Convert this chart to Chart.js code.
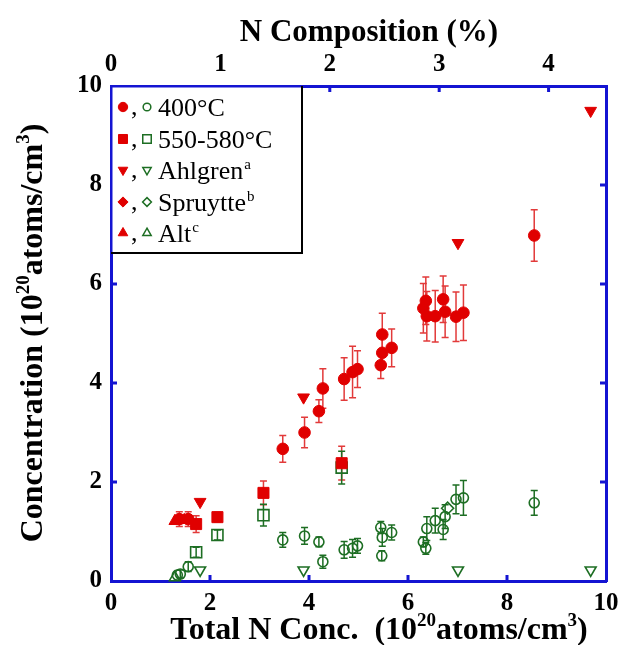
<!DOCTYPE html>
<html>
<head>
<meta charset="utf-8">
<script src="https://cdn.jsdelivr.net/npm/chart.js@4.4.0/dist/chart.umd.min.js"></script>
<style>
  html, body { margin: 0; padding: 0; background: #fff; }
  #wrap { width: 619px; height: 645px; }
</style>
</head>
<body>
<div id="wrap"><canvas id="chart" width="619" height="645"></canvas></div>
<script>
// 400°C (filled = red, open = green), x = total N conc, y = concentration
const t400RedX = [1.38, 1.56, 3.47, 3.91, 4.20, 4.28, 4.71, 4.88, 4.98, 5.45, 5.48, 5.48, 5.67, 6.31, 6.36, 6.38, 6.55, 6.71, 6.75, 6.97, 7.12, 8.55];
const t400RedY = [1.25, 1.25, 2.67, 3.00, 3.43, 3.89, 4.08, 4.22, 4.28, 4.36, 4.61, 4.98, 4.71, 5.51, 5.66, 5.35, 5.35, 5.69, 5.44, 5.34, 5.42, 6.98];
const t400RedErr = [0.15, 0.15, 0.27, 0.31, 0.23, 0.40, 0.43, 0.52, 0.37, 0.27, 0.30, 0.43, 0.38, 0.50, 0.48, 0.50, 0.52, 0.47, 0.52, 0.50, 0.56, 0.52];

const t400GreenX = [1.34, 1.40, 1.56, 3.47, 3.91, 4.20, 4.28, 4.71, 4.88, 4.98, 5.45, 5.48, 5.47, 5.67, 6.31, 6.36, 6.38, 6.55, 6.71, 6.75, 6.97, 7.12, 8.55];
const t400GreenY = [0.12, 0.14, 0.29, 0.83, 0.91, 0.79, 0.39, 0.63, 0.66, 0.71, 1.08, 0.88, 0.51, 0.98, 0.79, 0.66, 1.06, 1.22, 1.04, 1.30, 1.65, 1.68, 1.58];
const t400GreenErr = [0, 0.08, 0.10, 0.15, 0.17, 0.10, 0.13, 0.17, 0.18, 0.15, 0.12, 0.18, 0.10, 0.15, 0.10, 0.12, 0.24, 0.25, 0.20, 0.24, 0.29, 0.35, 0.25];

// 550-580°C
const t550X = [1.72, 2.15, 3.08, 4.66];
const t550RedY = [1.15, 1.29, 1.78, 2.38];
const t550RedErr = [0.17, 0.10, 0.24, 0.34];
const t550GreenY = [0.58, 0.93, 1.33, 2.29];
const t550GreenErr = [0.10, 0.10, 0.22, 0.33];

// Ahlgren
const ahlX = [1.80, 3.89, 7.01, 9.69];
const ahlRedY = [1.60, 3.71, 6.83, 9.50];
const ahlGreenY = [0.22, 0.22, 0.22, 0.22];

// Spruytte
const spruRedX = [];
const spruRedY = [];
const spruGreenX = [6.80];
const spruGreenY = [1.47];

// Alt
const altRedX = [1.29, 1.48];
const altRedY = [1.21, 1.23];
const altGreenX = [1.29];
const altGreenY = [0.07];

const xTicks = [0, 2, 4, 6, 8, 10];
const yTicks = [0, 2, 4, 6, 8, 10];
const topTicks = [0, 1, 2, 3, 4];
const nPerPercent = 2.21; // 1% N = 2.21e20 atoms/cm3

const red = '#e00000';
const redBar = '#e23a3a';
const green = '#1d6e23';
const blue = '#1414d2';
const serif = '"Liberation Serif", "Times New Roman", serif';

function pts(xs, ys) {
    return xs.map((x, i) => ({ x: x, y: ys[i] }));
}

function redSet(label, xs, ys, style, radius, rotation, errs) {
    return {
        label: label, data: pts(xs, ys), errors: errs, barColor: redBar,
        pointStyle: style, pointRadius: radius, pointRotation: rotation || 0,
        backgroundColor: red, borderColor: red, borderWidth: 1, clip: false
    };
}

function greenSet(label, xs, ys, style, radius, rotation, errs) {
    return {
        label: label, data: pts(xs, ys), errors: errs, barColor: green,
        pointStyle: style, pointRadius: radius, pointRotation: rotation || 0,
        backgroundColor: 'rgba(0,0,0,0)', borderColor: green, borderWidth: 1.6, clip: false
    };
}

const datasets = [
    redSet('400°C', t400RedX, t400RedY, 'circle', 5.8, 0, t400RedErr),
    redSet('550-580°C', t550X, t550RedY, 'rect', 7.8, 0, t550RedErr),
    redSet('Ahlgren', ahlX, ahlRedY, 'triangle', 6.8, 180),
    redSet('Spruytte', spruRedX, spruRedY, 'rectRot', 5.5),
    redSet('Alt', altRedX, altRedY, 'triangle', 6.8),
    greenSet('400°C', t400GreenX, t400GreenY, 'circle', 5, 0, t400GreenErr),
    greenSet('550-580°C', t550X, t550GreenY, 'rect', 7.8, 0, t550GreenErr),
    greenSet('Ahlgren', ahlX, ahlGreenY, 'triangle', 6.3, 180),
    greenSet('Spruytte', spruGreenX, spruGreenY, 'rectRot', 6),
    greenSet('Alt', altGreenX, altGreenY, 'triangle', 6.3)
];

const legendRows = [
    { style: 'circle', rot: 0, rr: 5.5, gr: 4.8, text: '400°C', sup: '' },
    { style: 'rect', rot: 0, rr: 7.5, gr: 7.5, text: '550-580°C', sup: '' },
    { style: 'triangle', rot: 180, rr: 6.5, gr: 6, text: 'Ahlgren', sup: 'a' },
    { style: 'rectRot', rot: 0, rr: 6, gr: 5.5, text: 'Spruytte', sup: 'b' },
    { style: 'triangle', rot: 0, rr: 6.5, gr: 6, text: 'Alt', sup: 'c' }
];

function drawRich(ctx, parts, x, y, size) {
    const big = 'bold ' + size + 'px ' + serif;
    const small = 'bold ' + Math.round(size * 0.6) + 'px ' + serif;
    let w = 0;
    parts.forEach(p => { ctx.font = p[1] ? small : big; w += ctx.measureText(p[0]).width; });
    let cx = x - w / 2;
    ctx.textAlign = 'left';
    ctx.textBaseline = 'alphabetic';
    parts.forEach(p => {
        ctx.font = p[1] ? small : big;
        ctx.fillText(p[0], cx, p[1] ? y - size * 0.4 : y);
        cx += ctx.measureText(p[0]).width;
    });
}

const decorations = {
    id: 'decorations',
    beforeDatasetsDraw(chart) {
        const ctx = chart.ctx;
        const ys = chart.scales.y;
        ctx.save();
        chart.data.datasets.forEach((ds, i) => {
            if (!ds.errors) return;
            const meta = chart.getDatasetMeta(i);
            ctx.strokeStyle = ds.barColor;
            ctx.lineWidth = 1.5;
            meta.data.forEach((pt, j) => {
                const e = ds.errors[j];
                if (!e) return;
                const top = ys.getPixelForValue(ds.data[j].y + e);
                const bot = ys.getPixelForValue(ds.data[j].y - e);
                ctx.beginPath();
                ctx.moveTo(pt.x, top); ctx.lineTo(pt.x, bot);
                ctx.moveTo(pt.x - 3.5, top); ctx.lineTo(pt.x + 3.5, top);
                ctx.moveTo(pt.x - 3.5, bot); ctx.lineTo(pt.x + 3.5, bot);
                ctx.stroke();
            });
        });
        ctx.restore();
    },
    afterDraw(chart) {
        const ctx = chart.ctx;
        const a = chart.chartArea;
        const sx = chart.scales.x, sy = chart.scales.y, st = chart.scales.x2;
        ctx.save();

        // inward tick marks
        ctx.strokeStyle = blue;
        ctx.lineWidth = 3;
        ctx.beginPath();
        xTicks.slice(1, -1).forEach(v => {
            const px = sx.getPixelForValue(v);
            ctx.moveTo(px, a.bottom); ctx.lineTo(px, a.bottom - 6);
        });
        yTicks.slice(1, -1).forEach(v => {
            const py = sy.getPixelForValue(v);
            ctx.moveTo(a.left, py); ctx.lineTo(a.left + 6, py);
            ctx.moveTo(a.right, py); ctx.lineTo(a.right - 6, py);
        });
        topTicks.slice(1).forEach(v => {
            const px = st.getPixelForValue(v);
            ctx.moveTo(px, a.top); ctx.lineTo(px, a.top + 6);
        });
        ctx.stroke();

        // axis titles
        ctx.fillStyle = '#000';
        drawRich(ctx, [['N Composition (%)', false]], 369, 41, 31);
        drawRich(ctx, [['Total N Conc.  (10', false], ['20', true], ['atoms/cm', false], ['3', true], [')', false]], 379, 639, 32);
        ctx.save();
        ctx.translate(42, 333);
        ctx.rotate(-Math.PI / 2);
        drawRich(ctx, [['Concentration (10', false], ['20', true], ['atoms/cm', false], ['3', true], [')', false]], 0, 0, 32);
        ctx.restore();

        // legend box
        const lx = a.left + 1.5, ly = a.top + 1.5, rx = 302, by = 253;
        ctx.fillStyle = '#fff';
        ctx.fillRect(lx, ly, rx - lx, by - ly);
        ctx.strokeStyle = '#000';
        ctx.lineWidth = 2;
        ctx.beginPath();
        ctx.moveTo(rx, a.top); ctx.lineTo(rx, by); ctx.lineTo(a.left, by);
        ctx.stroke();

        const rowY = [107, 139, 170, 202, 233];
        legendRows.forEach((r, i) => {
            const y = rowY[i];
            ctx.fillStyle = red; ctx.strokeStyle = red; ctx.lineWidth = 1;
            Chart.helpers.drawPoint(ctx, { pointStyle: r.style, radius: r.rr * 0.85, rotation: r.rot, borderWidth: 1 }, 123, y);
            ctx.fillStyle = 'rgba(0,0,0,0)'; ctx.strokeStyle = green; ctx.lineWidth = 1.5;
            Chart.helpers.drawPoint(ctx, { pointStyle: r.style, radius: r.gr * 0.8, rotation: r.rot, borderWidth: 1.5 }, 147, y);
            ctx.fillStyle = '#000';
            ctx.textAlign = 'left'; ctx.textBaseline = 'alphabetic';
            ctx.font = '26px ' + serif;
            ctx.fillText(',', 131, y + 8);
            ctx.fillText(r.text, 158, y + 9);
            if (r.sup) {
                const w = ctx.measureText(r.text).width;
                ctx.font = '15px ' + serif;
                ctx.fillText(r.sup, 158 + w + 1, y - 1);
            }
        });
        ctx.restore();
    }
};

const tickFont = { family: serif, size: 25, weight: 'bold' };

function fixHoriz(h) {
    return s => { s.height = h; s.paddingLeft = 0; s.paddingRight = 0; };
}
function fixVert(w) {
    return s => { s.width = w; s.paddingTop = 0; s.paddingBottom = 0; };
}

new Chart(document.getElementById('chart'), {
    type: 'scatter',
    data: { datasets: datasets },
    plugins: [decorations],
    options: {
        responsive: false,
        animation: false,
        layout: { padding: 0 },
        plugins: { legend: { display: false }, tooltip: { enabled: false } },
        scales: {
            x: {
                type: 'linear', position: 'bottom', min: 0, max: 10,
                afterFit: fixHoriz(64),
                afterBuildTicks: s => { s.ticks = xTicks.map(v => ({ value: v })); },
                grid: { display: false, drawTicks: false },
                border: { color: blue, width: 3 },
                ticks: { font: tickFont, color: '#000', padding: 8, maxRotation: 0 }
            },
            x2: {
                type: 'linear', position: 'top', min: 0, max: 10 / nPerPercent,
                afterFit: fixHoriz(86),
                afterBuildTicks: s => { s.ticks = topTicks.map(v => ({ value: v })); },
                grid: { display: false, drawTicks: false },
                border: { color: blue, width: 3 },
                ticks: { font: tickFont, color: '#000', padding: 6, maxRotation: 0 }
            },
            y: {
                type: 'linear', position: 'left', min: 0, max: 10,
                afterFit: fixVert(111),
                afterBuildTicks: s => { s.ticks = yTicks.map(v => ({ value: v })); },
                grid: { display: false, drawTicks: false },
                border: { color: blue, width: 3 },
                ticks: { font: tickFont, color: '#000', padding: 9 }
            },
            y2: {
                type: 'linear', position: 'right', min: 0, max: 10,
                afterFit: fixVert(13),
                grid: { display: false, drawTicks: false },
                border: { color: blue, width: 3 },
                ticks: { display: false }
            }
        }
    }
});
</script>
</body>
</html>
